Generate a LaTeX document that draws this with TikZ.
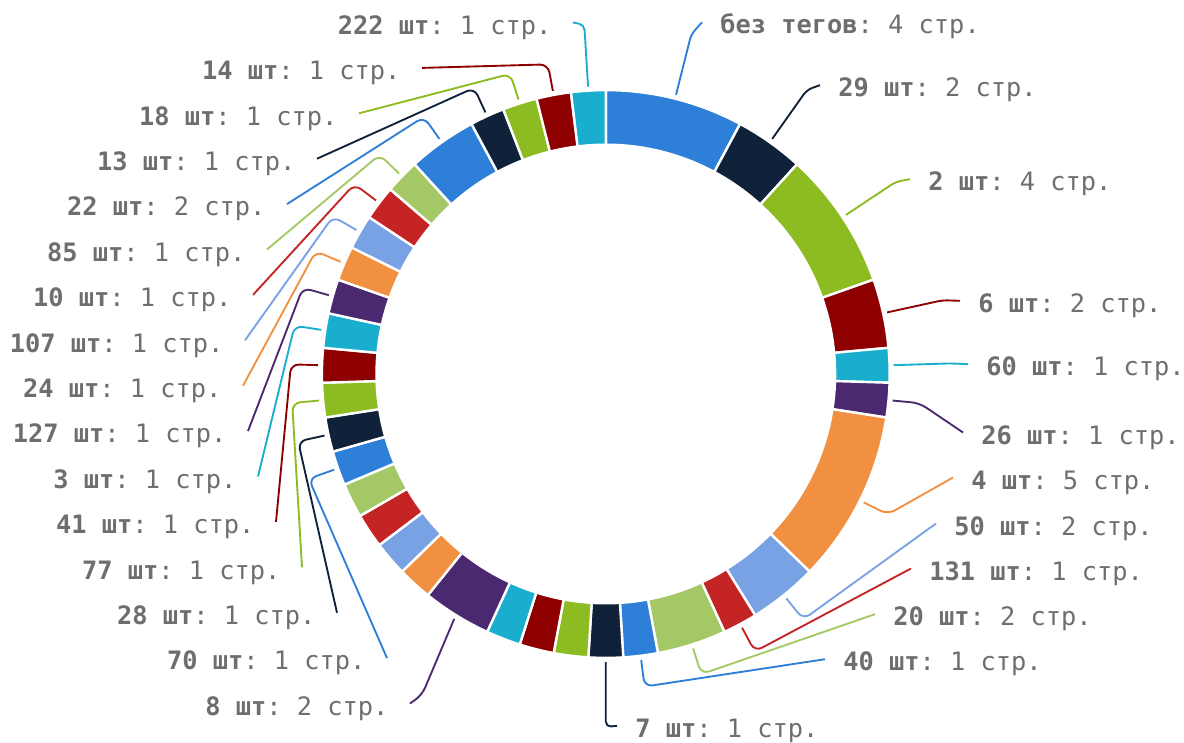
\documentclass[tikz,border=0pt]{standalone}
\usepackage{fontspec}
\usepackage{xcolor}
\usepackage{tikz}
\newfontfamily\labfont{DejaVu Sans Mono}
\frenchspacing
\definecolor{cblue}{HTML}{2E7FD8}
\definecolor{cnavy}{HTML}{0F2239}
\definecolor{cgreen}{HTML}{8CBB22}
\definecolor{cdred}{HTML}{8E0000}
\definecolor{ccyan}{HTML}{1AAECE}
\definecolor{cpurple}{HTML}{4A2970}
\definecolor{corange}{HTML}{F29042}
\definecolor{clblue}{HTML}{78A2E3}
\definecolor{cred}{HTML}{C42424}
\definecolor{clgreen}{HTML}{A5C866}
\definecolor{labgray}{HTML}{6E6E6E}
\tikzset{
  seg/.style={fill=#1, draw=white, line width=1.8pt},
  lead/.style={draw=#1, line width=1.4pt, rounded corners=6pt},
  lab/.style={text=labgray, font=\labfont\fontsize{19}{22}\selectfont, inner ysep=0pt, text height=17.6pt, text depth=0pt},
  labr/.style={lab, anchor=west, inner xsep=13.65pt},
  labl/.style={lab, anchor=east, inner xsep=16pt}
}

\begin{document}
\begin{tikzpicture}[x=0.75pt, y=-0.75pt]
\useasboundingbox (0,0) rectangle (1184,742);

\begin{scope}[shift={(605.8,374)}]
\foreach \s/\e/\c in {0/4/cblue, 4/6/cnavy, 6/10/cgreen, 10/12/cdred, 12/13/ccyan,
  13/14/cpurple, 14/19/corange, 19/21/clblue, 21/22/cred, 22/24/clgreen,
  24/25/cblue, 25/26/cnavy, 26/27/cgreen, 27/28/cdred, 28/29/ccyan,
  29/31/cpurple, 31/32/corange, 32/33/clblue, 33/34/cred, 34/35/clgreen,
  35/36/cblue, 36/37/cnavy, 37/38/cgreen, 38/39/cdred, 39/40/ccyan,
  40/41/cpurple, 41/42/corange, 42/43/clblue, 43/44/cred, 44/45/clgreen,
  45/47/cblue, 47/48/cnavy, 48/49/cgreen, 49/50/cdred, 50/51/ccyan}
  \fill[seg=\c] ({\s*7.0588-90}:283.9) arc[start angle={\s*7.0588-90}, end angle={\e*7.0588-90}, radius=283.9]
    -- ({\e*7.0588-90}:229.3) arc[start angle={\e*7.0588-90}, end angle={\s*7.0588-90}, radius=229.3] -- cycle;

\coordinate (s1) at (-75.88:288);  \coordinate (k1) at (-75.88:350);
\coordinate (s2) at (-54.71:288);  \coordinate (k2) at (-54.71:348);
\coordinate (s3) at (-33.53:288);  \coordinate (k3) at (-33.53:348);
\coordinate (s4) at (-12.35:288);  \coordinate (k4) at (-12.35:345);
\coordinate (s5) at (-1.76:288);   \coordinate (k5) at (-1.76:345);
\coordinate (s6) at (5.29:288);    \coordinate (k6) at (5.29:315);
\coordinate (s7) at (26.47:288);   \coordinate (k7) at (26.47:315);
\coordinate (s8) at (51.18:288);   \coordinate (k8) at (51.18:315);
\coordinate (s9) at (61.76:288);   \coordinate (k9) at (61.76:315);
\coordinate (s10) at (72.35:288);  \coordinate (k10) at (72.35:315);
\coordinate (s11) at (82.94:288);  \coordinate (k11) at (82.94:315);
\coordinate (s12) at (90:288);     \coordinate (k12) at (90:353);
\coordinate (s16) at (121.76:288);
\coordinate (s21) at (160.59:288); \coordinate (k21) at (160.59:315);
\coordinate (s22) at (167.65:288); \coordinate (k22) at (167.65:315);
\coordinate (s23) at (174.71:288); \coordinate (k23) at (174.71:315);
\coordinate (s24) at (181.76:288); \coordinate (k24) at (181.76:315);
\coordinate (s25) at (188.82:288); \coordinate (k25) at (188.82:315);
\coordinate (s26) at (195.88:288); \coordinate (k26) at (195.88:315);
\coordinate (s27) at (202.94:288); \coordinate (k27) at (202.94:315);
\coordinate (s28) at (210:288);    \coordinate (k28) at (210:315);
\coordinate (s29) at (217.06:288); \coordinate (k29) at (217.06:315);
\coordinate (s30) at (224.12:288); \coordinate (k30) at (224.12:315);
\coordinate (s31) at (234.71:288); \coordinate (k31) at (234.71:315);
\coordinate (s32) at (245.29:288); \coordinate (k32) at (245.29:315);
\coordinate (s33) at (252.35:288); \coordinate (k33) at (252.35:315);
\coordinate (s34) at (259.41:288); \coordinate (k34) at (259.41:315);
\coordinate (s35) at (266.47:288); \coordinate (k35) at (266.47:350);
\end{scope}
\coordinate (k16) at (422,695);

\node[labr] (l1) at (702,22.2) {\textbf{без тегов}: 4 стр.};
\node[labr] (l2) at (820,85.1) {\textbf{29 шт}: 2 стр.};
\node[labr] (l3) at (910,179.2) {\textbf{2 шт}: 4 стр.};
\node[labr] (l4) at (960,300.8) {\textbf{6 шт}: 2 стр.};
\node[labr] (l5) at (968,364.2) {\textbf{60 шт}: 1 стр.};
\node[labr] (l6) at (963,432.5) {\textbf{26 шт}: 1 стр.};
\node[labr] (l7) at (953,477.5) {\textbf{4 шт}: 5 стр.};
\node[labr] (l8) at (936,523.5) {\textbf{50 шт}: 2 стр.};
\node[labr] (l9) at (911,568.5) {\textbf{131 шт}: 1 стр.};
\node[labr] (l10) at (875,614.2) {\textbf{20 шт}: 2 стр.};
\node[labr] (l11) at (825,659.2) {\textbf{40 шт}: 1 стр.};
\node[labr] (l12) at (617,725.8) {\textbf{7 шт}: 1 стр.};

\node[labl] (l16) at (410,703.5) {\textbf{8 шт}: 2 стр.};
\node[labl] (l21) at (387,658.1) {\textbf{70 шт}: 1 стр.};
\node[labl] (l22) at (337,612.7) {\textbf{28 шт}: 1 стр.};
\node[labl] (l23) at (302,567.3) {\textbf{77 шт}: 1 стр.};
\node[labl] (l24) at (276,521.9) {\textbf{41 шт}: 1 стр.};
\node[labl] (l25) at (258,476.5) {\textbf{3 шт}: 1 стр.};
\node[labl] (l26) at (248,431.1) {\textbf{127 шт}: 1 стр.};
\node[labl] (l27) at (243,385.7) {\textbf{24 шт}: 1 стр.};
\node[labl] (l28) at (245,340.3) {\textbf{107 шт}: 1 стр.};
\node[labl] (l29) at (253,294.9) {\textbf{10 шт}: 1 стр.};
\node[labl] (l30) at (267,249.5) {\textbf{85 шт}: 1 стр.};
\node[labl] (l31) at (287,204.1) {\textbf{22 шт}: 2 стр.};
\node[labl] (l32) at (317,158.7) {\textbf{13 шт}: 1 стр.};
\node[labl] (l33) at (359,113.3) {\textbf{18 шт}: 1 стр.};
\node[labl] (l34) at (422,67.9) {\textbf{14 шт}: 1 стр.};
\node[labl] (l35) at (573,22.5) {\textbf{222 шт}: 1 стр.};

\draw[-, lead=cblue, rounded corners=4pt] (s1) -- (k1) -- (l1.west);
\draw[-, lead=cnavy, rounded corners=4pt] (s2) -- (k2) -- (l2.west);
\draw[-, lead=cgreen, rounded corners=4pt] (s3) -- (k3) -- (l3.west);
\draw[-, lead=cdred, rounded corners=4pt] (s4) -- (k4) -- (l4.west);
\draw[-, lead=ccyan, rounded corners=4pt] (s5) -- (k5) -- (l5.west);
\draw[-, lead=cpurple] (s6) -- (k6) -- (l6.west);
\draw[-, lead=corange] (s7) -- (k7) -- (l7.west);
\draw[-, lead=clblue] (s8) -- (k8) -- (l8.west);
\draw[-, lead=cred] (s9) -- (k9) -- (l9.west);
\draw[-, lead=clgreen] (s10) -- (k10) -- (l10.west);
\draw[-, lead=cblue] (s11) -- (k11) -- (l11.west);
\draw[-, lead=cnavy, rounded corners=4pt] (s12) -- (k12) -- (l12.west);

\draw[-, lead=cpurple] (s16) -- (k16) -- (l16.east);
\draw[-, lead=cblue] (s21) -- (k21) -- (l21.east);
\draw[-, lead=cnavy] (s22) -- (k22) -- (l22.east);
\draw[-, lead=cgreen] (s23) -- (k23) -- (l23.east);
\draw[-, lead=cdred] (s24) -- (k24) -- (l24.east);
\draw[-, lead=ccyan] (s25) -- (k25) -- (l25.east);
\draw[-, lead=cpurple] (s26) -- (k26) -- (l26.east);
\draw[-, lead=corange] (s27) -- (k27) -- (l27.east);
\draw[-, lead=clblue] (s28) -- (k28) -- (l28.east);
\draw[-, lead=cred] (s29) -- (k29) -- (l29.east);
\draw[-, lead=clgreen] (s30) -- (k30) -- (l30.east);
\draw[-, lead=cblue] (s31) -- (k31) -- (l31.east);
\draw[-, lead=cnavy] (s32) -- (k32) -- (l32.east);
\draw[-, lead=cgreen] (s33) -- (k33) -- (l33.east);
\draw[-, lead=cdred] (s34) -- (k34) -- (l34.east);
\draw[-, lead=ccyan, rounded corners=4pt] (s35) -- (k35) -- (l35.east);

\end{tikzpicture}
\end{document}
